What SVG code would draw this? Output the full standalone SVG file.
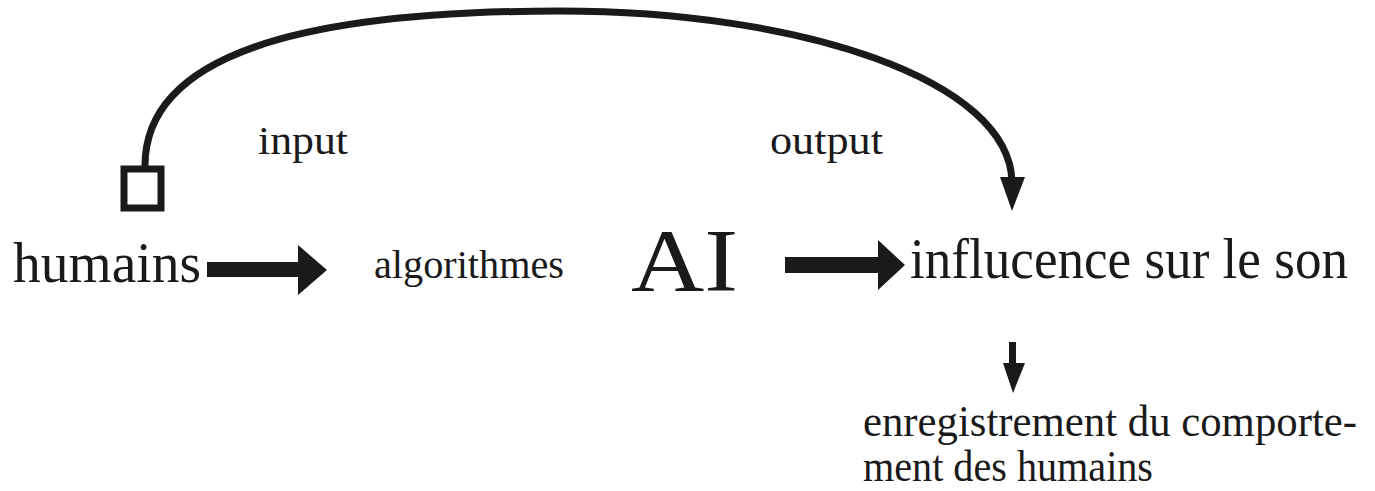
<svg xmlns="http://www.w3.org/2000/svg" width="1375" height="491" viewBox="0 0 1375 491">
<style>
text{font-family:"Liberation Serif","Times New Roman",serif;fill:#1a1a1a}
.line{fill:none;stroke:#1a1a1a;stroke-width:7}
.head{fill:#1a1a1a}
</style>
<rect width="1375" height="491" fill="#fff"/>
<g id="connectors">
  <path class="line" d="M145,168 C143,55 300,11 560,11 C800,11 1010,80 1012,182"/>
  <polygon class="head" points="1000,177 1025,177 1012,211"/>
  <rect x="124" y="169" width="37" height="39" fill="#fff" stroke="#1a1a1a" stroke-width="7"/>
  <polygon class="head" points="207,262 298,262 298,245 327,270 298,295 298,277 207,277"/>
  <polygon class="head" points="785,257 878,257 878,240 905,265 878,290 878,273 785,273"/>
  <polygon class="head" points="1009,342 1016,342 1016,363 1025,363 1013,393 1003,363 1009,363"/>
</g>
<g id="humains"><text x="13" y="282" font-size="58" textLength="188" lengthAdjust="spacingAndGlyphs">humains</text></g>
<g id="input"><text x="258" y="154" font-size="40" textLength="90" lengthAdjust="spacingAndGlyphs">input</text></g>
<g id="algorithmes"><text x="374" y="278" font-size="40" textLength="190" lengthAdjust="spacingAndGlyphs">algorithmes</text></g>
<g id="ai"><text x="631" y="290" font-size="88" textLength="107" lengthAdjust="spacingAndGlyphs">AI</text></g>
<g id="output"><text x="770" y="154" font-size="40" textLength="113" lengthAdjust="spacingAndGlyphs">output</text></g>
<g id="influence"><text x="910" y="278" font-size="56" textLength="438" lengthAdjust="spacingAndGlyphs">influcence sur le son</text></g>
<g id="enregistrement">
  <text x="863" y="436" font-size="44" textLength="494" lengthAdjust="spacingAndGlyphs">enregistrement du comporte-</text>
  <text x="863" y="481" font-size="44" textLength="290" lengthAdjust="spacingAndGlyphs">ment des humains</text>
</g>
</svg>
